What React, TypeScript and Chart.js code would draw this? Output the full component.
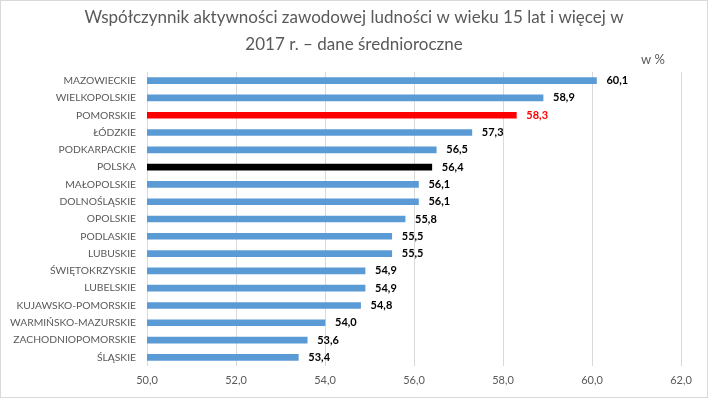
import React, { useEffect, useRef } from 'react';
import { Chart, registerables } from 'chart.js';

Chart.register(...registerables);

const categories = [
  'MAZOWIECKIE',
  'WIELKOPOLSKIE',
  'POMORSKIE',
  'ŁÓDZKIE',
  'PODKARPACKIE',
  'POLSKA',
  'MAŁOPOLSKIE',
  'DOLNOŚLĄSKIE',
  'OPOLSKIE',
  'PODLASKIE',
  'LUBUSKIE',
  'ŚWIĘTOKRZYSKIE',
  'LUBELSKIE',
  'KUJAWSKO-POMORSKIE',
  'WARMIŃSKO-MAZURSKIE',
  'ZACHODNIOPOMORSKIE',
  'ŚLĄSKIE',
];

const values = [60.1, 58.9, 58.3, 57.3, 56.5, 56.4, 56.1, 56.1, 55.8, 55.5, 55.5, 54.9, 54.9, 54.8, 54.0, 53.6, 53.4];

const titleLines = ['Współczynnik aktywności zawodowej ludności w wieku 15 lat i więcej w', '2017 r. – dane średnioroczne'];
const unitLabel = 'w %';

const axisMin = 50;
const axisMax = 62;
const axisStep = 2;

const FONT = 'Lato';
const BLUE = '#5B9BD5';
const RED = '#FF0000';
const BLACK = '#000000';
const GREY_TEXT = '#595959';
const GRID = '#D9D9D9';

const colorFor = (name: string) => (name === 'POMORSKIE' ? RED : name === 'POLSKA' ? BLACK : BLUE);
const labelColorFor = (name: string) => (name === 'POMORSKIE' ? RED : BLACK);
const fmt = (v: number) => v.toFixed(1).replace('.', ',');

export default function App() {
  const ref = useRef<HTMLCanvasElement | null>(null);

  useEffect(() => {
    if (!ref.current) return;

    const decor = {
      id: 'decor',
      beforeDraw(chart: any) {
        const ctx = chart.ctx;
        ctx.save();
        ctx.fillStyle = '#ffffff';
        ctx.fillRect(0, 0, chart.width, chart.height);
        ctx.restore();
      },
      afterDraw(chart: any) {
        const ctx = chart.ctx;
        ctx.save();
        ctx.strokeStyle = GRID;
        ctx.lineWidth = 1;
        ctx.strokeRect(0.5, 0.5, chart.width - 1, chart.height - 1);
        // title, centred on the whole canvas
        ctx.fillStyle = GREY_TEXT;
        ctx.font = `17px ${FONT}`;
        ctx.textAlign = 'center';
        ctx.textBaseline = 'middle';
        titleLines.forEach((line, i) => {
          ctx.fillText(line, chart.width / 2, 18 + i * 27);
        });
        // unit label
        ctx.font = `13px ${FONT}`;
        ctx.fillText(unitLabel, chart.chartArea.right - 28, chart.chartArea.top - 12);
        ctx.restore();
      },
      afterDatasetsDraw(chart: any) {
        const ctx = chart.ctx;
        const meta = chart.getDatasetMeta(0);
        ctx.save();
        ctx.font = `bold 11px ${FONT}`;
        ctx.textAlign = 'left';
        ctx.textBaseline = 'middle';
        meta.data.forEach((bar: any, i: number) => {
          ctx.fillStyle = labelColorFor(categories[i]);
          ctx.fillText(fmt(values[i]), bar.x + 10, bar.y);
        });
        ctx.restore();
      },
    };

    const chart = new Chart(ref.current, {
      type: 'bar',
      data: {
        labels: categories,
        datasets: [
          {
            data: values,
            backgroundColor: categories.map(colorFor),
            barThickness: 6,
            borderWidth: 0,
          },
        ],
      },
      options: {
        indexAxis: 'y',
        responsive: false,
        animation: false,
        layout: { padding: { left: 0, right: 27, top: 72, bottom: 0 } },
        plugins: {
          legend: { display: false },
          tooltip: { enabled: false },
          title: { display: false },
        },
        scales: {
          x: {
            min: axisMin,
            max: axisMax,
            ticks: {
              stepSize: axisStep,
              callback: (v: any) => fmt(Number(v)),
              color: GREY_TEXT,
              font: { family: FONT, size: 11 },
              padding: 8,
            },
            grid: { color: GRID, drawTicks: false },
            border: { display: false },
            afterFit: (s: any) => {
              s.height = 32;
            },
          },
          y: {
            ticks: {
              color: GREY_TEXT,
              font: { family: FONT, size: 10.3 },
              padding: 11,
              autoSkip: false,
            },
            grid: { display: false, drawTicks: false },
            border: { display: false },
            afterFit: (s: any) => {
              s.width = 147;
            },
          },
        },
      },
      plugins: [decor],
    });

    return () => chart.destroy();
  }, []);

  return (
    <div style={{ position: 'absolute', left: 0, top: 0, width: 708, height: 398 }}>
      <canvas ref={ref} width={708} height={398} style={{ width: 708, height: 398, display: 'block' }} />
    </div>
  );
}
